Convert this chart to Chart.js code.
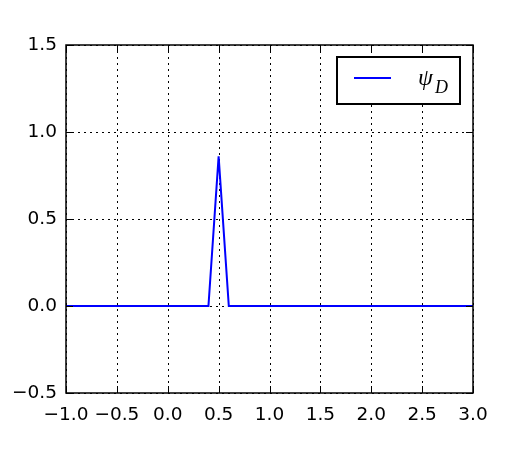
<!DOCTYPE html>
<html>
<head>
<meta charset="utf-8">
<script src="https://cdn.jsdelivr.net/npm/chart.js@4/dist/chart.umd.min.js"></script>
<style>
  html, body { margin: 0; padding: 0; background: #fff; }
  #wrap { width: 525px; height: 450px; }
</style>
</head>
<body>
<div id="wrap"><canvas id="c" width="525" height="450"></canvas></div>
<script>
// Data
const xValues = [-1.0, 0.4, 0.5, 0.6, 3.0];
const psiD    = [0.0, 0.0, 0.86, 0.0, 0.0];
const xTickValues = [-1.0, -0.5, 0.0, 0.5, 1.0, 1.5, 2.0, 2.5, 3.0];
const yTickValues = [-0.5, 0.0, 0.5, 1.0, 1.5];
const legendLabel = 'ψ';
const legendSub = 'D';

const points = xValues.map((x, i) => ({ x: x, y: psiD[i] }));
const fmt = v => v.toFixed(1).replace('-', '\u2212');

const framePlugin = {
  id: 'framePlugin',
  beforeDatasetsDraw(chart) {
    const { ctx, chartArea: a, scales } = chart;
    ctx.save();
    ctx.strokeStyle = '#000';
    ctx.lineWidth = 1;
    ctx.setLineDash([2, 4]);
    xTickValues.forEach(v => {
      const px = Math.round(scales.x.getPixelForValue(v)) + 0.5;
      ctx.beginPath(); ctx.moveTo(px, a.top); ctx.lineTo(px, a.bottom); ctx.stroke();
    });
    yTickValues.forEach(v => {
      const py = Math.round(scales.y.getPixelForValue(v)) + 0.5;
      ctx.beginPath(); ctx.moveTo(a.left, py); ctx.lineTo(a.right, py); ctx.stroke();
    });
    ctx.restore();
  },
  afterDatasetsDraw(chart) {
    const { ctx, chartArea: a, scales } = chart;
    ctx.save();
    ctx.strokeStyle = '#000';
    ctx.setLineDash([]);
    ctx.lineWidth = 1;
    const tl = 7;
    xTickValues.forEach(v => {
      const px = Math.round(scales.x.getPixelForValue(v)) + 0.5;
      ctx.beginPath(); ctx.moveTo(px, a.bottom); ctx.lineTo(px, a.bottom - tl); ctx.stroke();
      ctx.beginPath(); ctx.moveTo(px, a.top); ctx.lineTo(px, a.top + tl); ctx.stroke();
    });
    yTickValues.forEach(v => {
      const py = Math.round(scales.y.getPixelForValue(v)) + 0.5;
      ctx.beginPath(); ctx.moveTo(a.left, py); ctx.lineTo(a.left + tl, py); ctx.stroke();
      ctx.beginPath(); ctx.moveTo(a.right, py); ctx.lineTo(a.right - tl, py); ctx.stroke();
    });
    ctx.lineWidth = 1.5;
    ctx.strokeRect(a.left, a.top, a.right - a.left, a.bottom - a.top);
    ctx.restore();
  },
  afterDraw(chart) {
    const { ctx, chartArea: a } = chart;
    ctx.save();
    const bx = a.right - 136, by = a.top + 12, bw = 123, bh = 47;
    ctx.fillStyle = '#fff';
    ctx.fillRect(bx, by, bw, bh);
    ctx.strokeStyle = '#000';
    ctx.lineWidth = 2;
    ctx.strokeRect(bx, by, bw, bh);
    ctx.strokeStyle = '#0000ff';
    ctx.lineWidth = 2;
    ctx.beginPath(); ctx.moveTo(bx + 17, by + 21); ctx.lineTo(bx + 54, by + 21); ctx.stroke();
    ctx.fillStyle = '#000';
    ctx.textBaseline = 'alphabetic';
    ctx.font = 'italic 24px "Liberation Serif"';
    ctx.fillText(legendLabel, bx + 81, by + 28);
    ctx.font = 'italic 18px "Liberation Serif"';
    ctx.fillText(legendSub, bx + 98, by + 36);
    ctx.restore();
  }
};

new Chart(document.getElementById('c'), {
  type: 'scatter',
  data: {
    datasets: [{
      label: 'psi_D',
      data: points,
      showLine: true,
      borderColor: '#0000ff',
      borderWidth: 2,
      pointRadius: 0,
      fill: false,
      tension: 0
    }]
  },
  options: {
    responsive: false,
    animation: false,
    devicePixelRatio: 1,
    layout: { padding: { left: 0, top: 45, right: 52, bottom: 0 } },
    plugins: { legend: { display: false }, tooltip: { enabled: false } },
    scales: {
      x: {
        type: 'linear', min: -1, max: 3,
        afterFit(s) { s.height = 57; },
        afterBuildTicks(s) { s.ticks = xTickValues.map(v => ({ value: v })); },
        grid: { display: false, drawTicks: false },
        border: { display: false },
        ticks: {
          color: '#000', padding: 11,
          font: { family: '"DejaVu Sans"', size: 18.5 },
          maxRotation: 0, autoSkip: false,
          callback: v => fmt(v)
        }
      },
      y: {
        type: 'linear', min: -0.5, max: 1.5,
        afterFit(s) { s.width = 66; },
        afterBuildTicks(s) { s.ticks = yTickValues.map(v => ({ value: v })); },
        grid: { display: false, drawTicks: false },
        border: { display: false },
        ticks: {
          color: '#000', padding: 9,
          font: { family: '"DejaVu Sans"', size: 18.5 },
          autoSkip: false,
          callback: v => fmt(v)
        }
      }
    }
  },
  plugins: [framePlugin]
});
</script>
</body>
</html>
